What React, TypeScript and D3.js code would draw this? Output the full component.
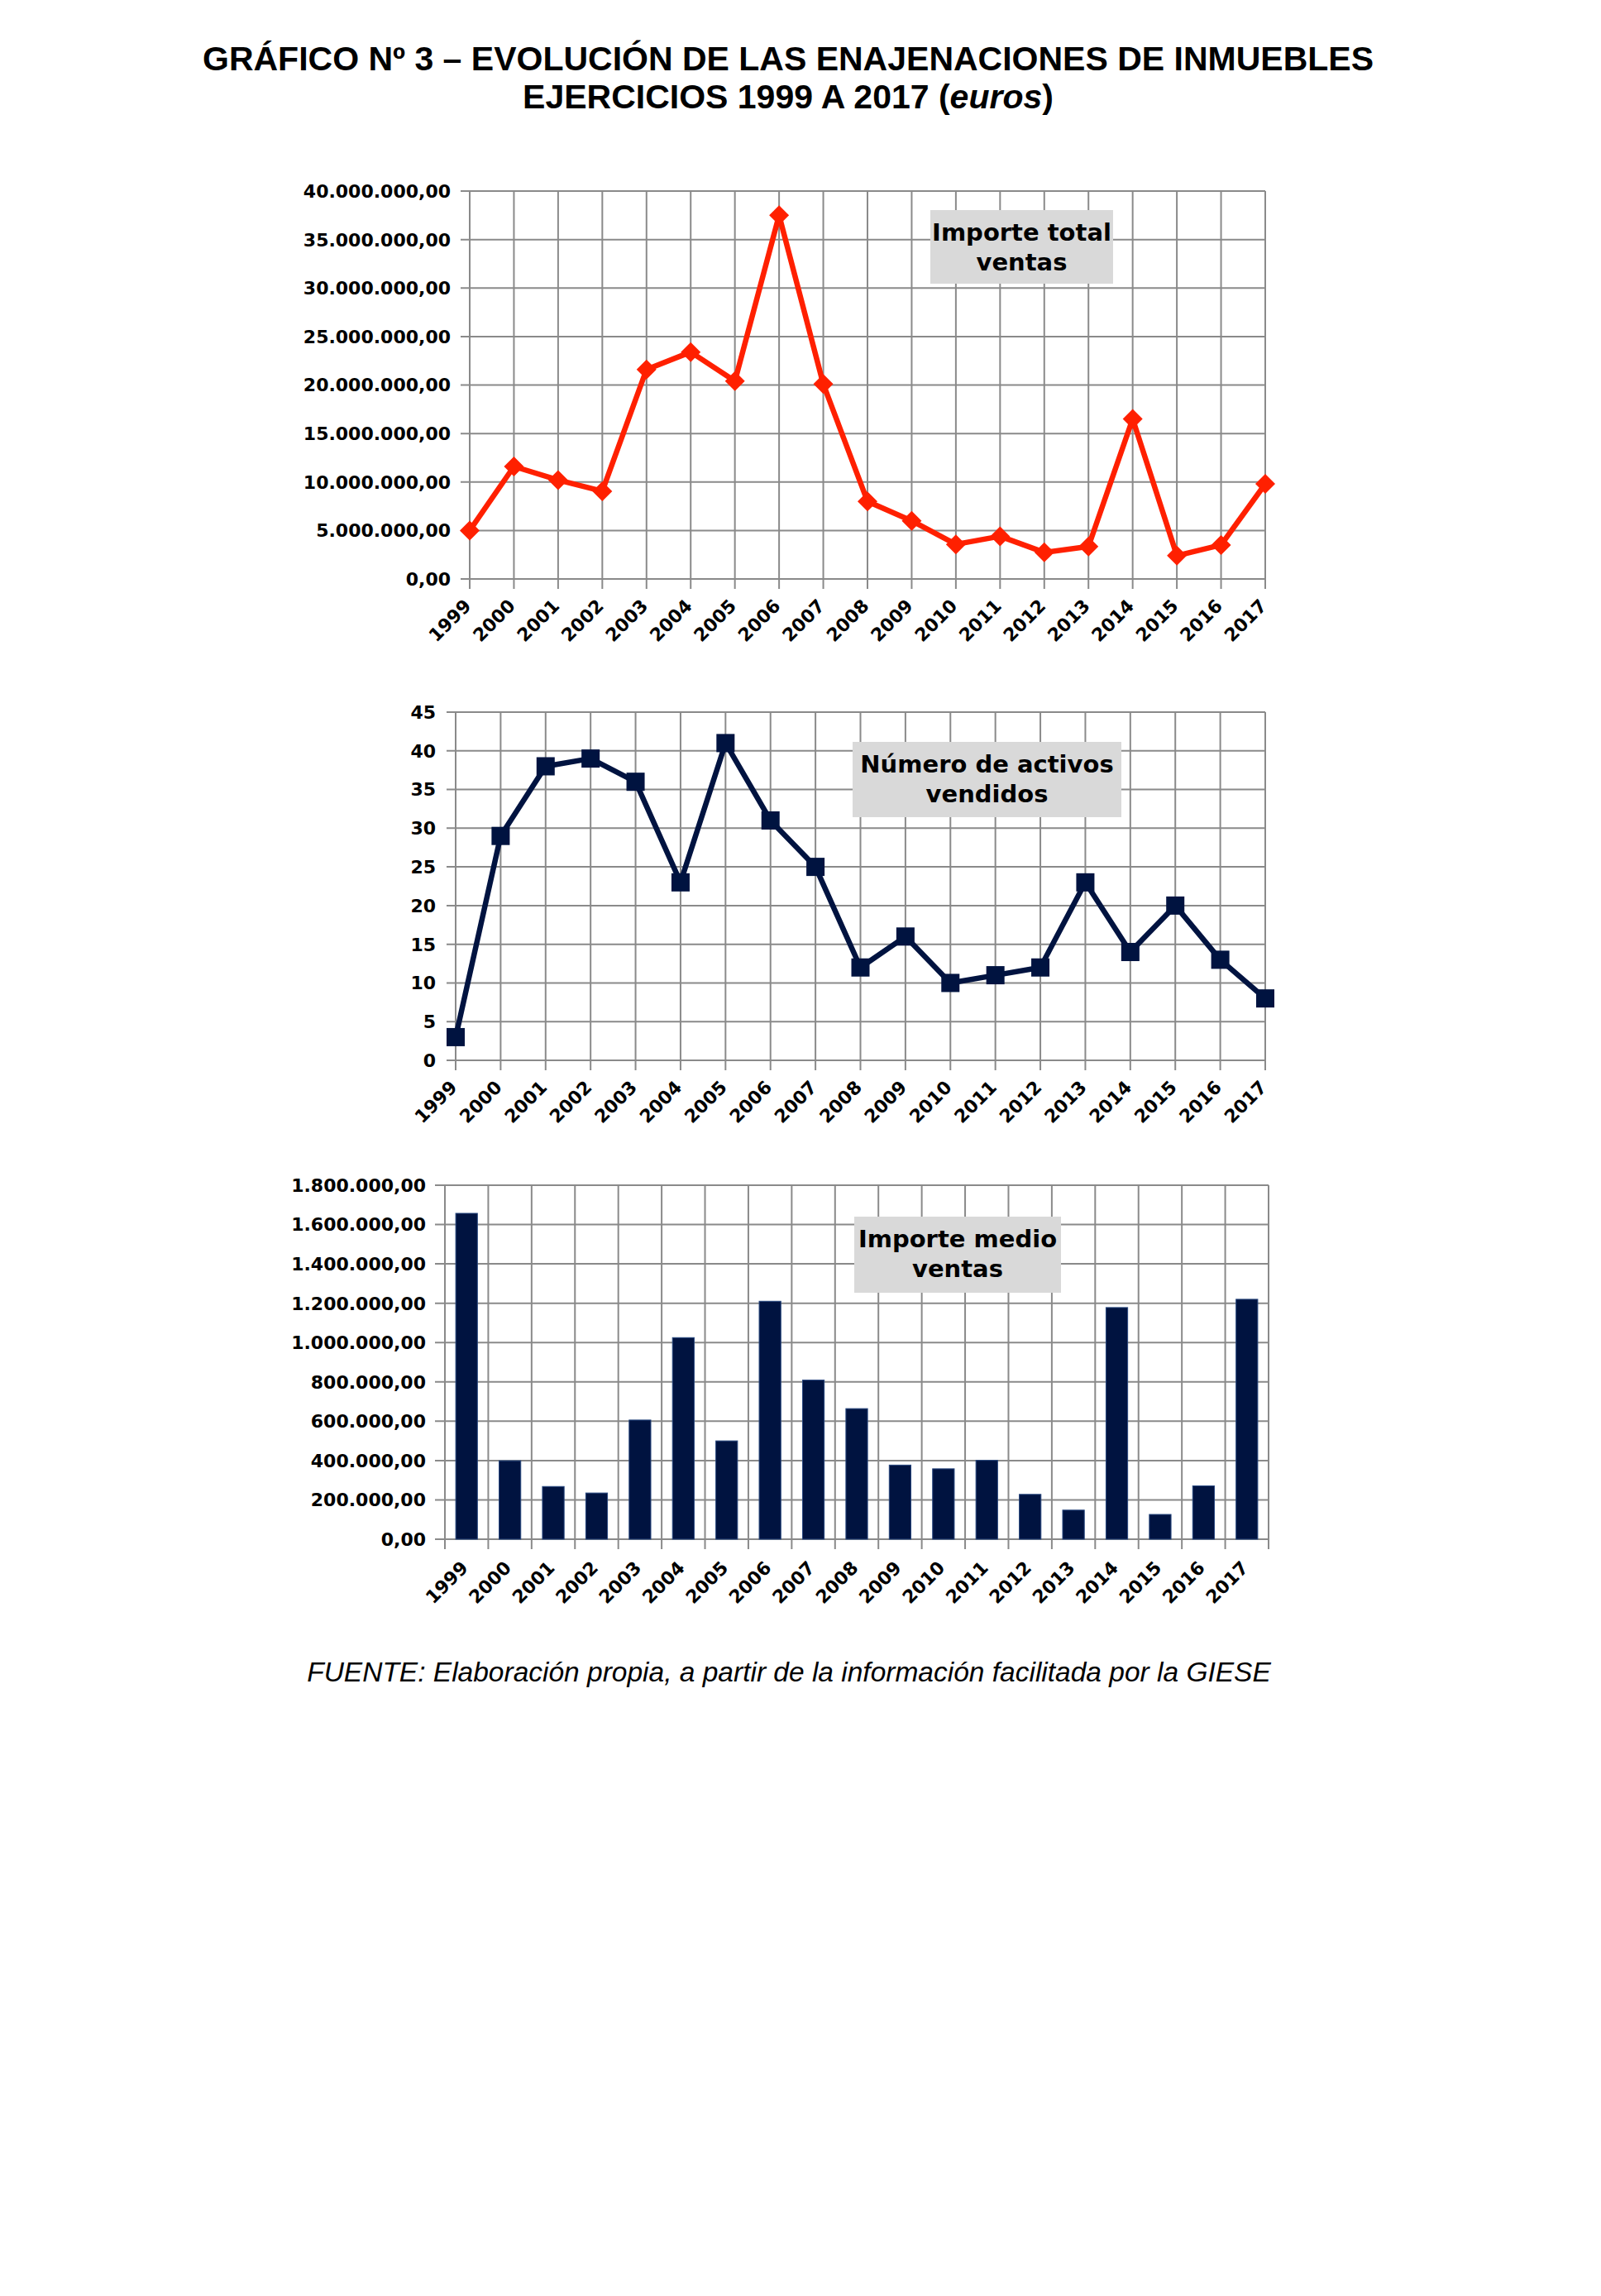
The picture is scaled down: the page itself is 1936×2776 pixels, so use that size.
import React from "react";
import * as d3 from "d3";

const years = ["1999","2000","2001","2002","2003","2004","2005","2006","2007","2008","2009","2010","2011","2012","2013","2014","2015","2016","2017"];
const importeTotal = [5.0e6,11.6e6,10.2e6,9.05e6,21.6e6,23.4e6,20.4e6,37.5e6,20.1e6,8.0e6,6.0e6,3.57e6,4.4e6,2.74e6,3.35e6,16.5e6,2.4e6,3.5e6,9.8e6];
const numeroActivos = [3,29,38,39,36,23,41,31,25,12,16,10,11,12,23,14,20,13,8];
const importeMedio = [1657000,399000,268000,235000,606000,1025000,500000,1210000,809000,664000,377000,358000,401000,228000,148000,1178000,126000,271000,1220000];
const ticks1 = [0,5e6,10e6,15e6,20e6,25e6,30e6,35e6,40e6];
const ticks2 = [0,5,10,15,20,25,30,35,40,45];
const ticks3 = [0,2e5,4e5,6e5,8e5,10e5,12e5,14e5,16e5,18e5];

const titleLine1 = "GRÁFICO Nº 3 – EVOLUCIÓN DE LAS ENAJENACIONES DE INMUEBLES";
const titleLine2a = "EJERCICIOS 1999 A 2017 (";
const titleLine2b = "euros";
const titleLine2c = ")";
const footer = "FUENTE: Elaboración propia, a partir de la información facilitada por la GIESE";
const legend1 = ["Importe total", "ventas"];
const legend2 = ["Número de activos", "vendidos"];
const legend3 = ["Importe medio", "ventas"];

const esLocale = d3.formatLocale({ decimal: ",", thousands: ".", grouping: [3], currency: ["", "€"] });
const fmtEuro = esLocale.format(",.2f");
const fmtInt = esLocale.format("d");

const GRID = "#8a8a8a";
const NAVY = "#001340";
const RED = "#ff2000";
const TICKFONT = "'DejaVu Sans', sans-serif";

function Legend({ x0, x1, y0, y1, lines }) {
  const cx = (x0 + x1) / 2;
  return (
    <g>
      <rect x={x0} y={y0} width={x1 - x0} height={y1 - y0} fill="#d9d9d9" />
      {lines.map((l, i) => (
        <text key={i} x={cx} y={y0 + 37 + i * 36} textAnchor="middle" fontFamily={TICKFONT} fontWeight="bold" fontSize={29} fill="#000">{l}</text>
      ))}
    </g>
  );
}

function YAxisLabels({ ticks, y, x, fmt }) {
  return (
    <g>
      {ticks.map((t) => (
        <text key={t} x={x} y={y(t)} dy="0.36em" textAnchor="end" fontFamily={TICKFONT} fontWeight="bold" fontSize={22} fill="#000">{fmt(t)}</text>
      ))}
    </g>
  );
}

function XLabels({ cats, xf, y }) {
  return (
    <g>
      {cats.map((c) => (
        <text key={c} transform={`translate(${xf(c) + 3},${y}) rotate(-45)`} textAnchor="end" fontFamily={TICKFONT} fontWeight="bold" fontSize={22} fill="#000">{c}</text>
      ))}
    </g>
  );
}

function LineChart({ left, right, top, bottom, labelX, ticks, max, values, color, marker, fmt, legend }) {
  const x = d3.scalePoint().domain(years).range([left, right]).padding(0);
  const y = d3.scaleLinear().domain([0, max]).range([bottom, top]);
  const line = d3.line().x((d, i) => x(years[i])).y((d) => y(d));
  return (
    <g>
      {ticks.map((t) => (
        <line key={"h" + t} x1={left - 11} x2={right} y1={y(t)} y2={y(t)} stroke={GRID} strokeWidth={2} />
      ))}
      {years.map((c) => (
        <line key={"v" + c} x1={x(c)} x2={x(c)} y1={top} y2={bottom + 12} stroke={GRID} strokeWidth={2} />
      ))}
      <Legend {...legend} />
      <path d={line(values)} fill="none" stroke={color} strokeWidth={6.5} strokeLinejoin="round" />
      {values.map((v, i) => {
        const cx = x(years[i]);
        const cy = y(v);
        if (marker === "diamond") {
          const s = 12;
          return <path key={i} d={`M${cx},${cy - s}L${cx + s},${cy}L${cx},${cy + s}L${cx - s},${cy}Z`} fill={color} />;
        }
        const s = 11;
        return <rect key={i} x={cx - s} y={cy - s} width={2 * s} height={2 * s} fill={color} />;
      })}
      <YAxisLabels ticks={ticks} y={y} x={labelX} fmt={fmt} />
      <XLabels cats={years} xf={(c) => x(c)} y={bottom + 34} />
    </g>
  );
}

function BarChart({ left, right, top, bottom, labelX, legend }) {
  const x = d3.scaleBand().domain(years).range([left, right]).padding(0);
  const y = d3.scaleLinear().domain([0, 1800000]).range([bottom, top]);
  const bw = x.bandwidth() * 0.5;
  return (
    <g>
      {ticks3.map((t) => (
        <line key={"h" + t} x1={left - 12} x2={right} y1={y(t)} y2={y(t)} stroke={GRID} strokeWidth={2} />
      ))}
      {years.map((c) => (
        <line key={"v" + c} x1={x(c)} x2={x(c)} y1={top} y2={bottom + 12} stroke={GRID} strokeWidth={2} />
      ))}
      <line x1={right} x2={right} y1={top} y2={bottom + 12} stroke={GRID} strokeWidth={2} />
      <Legend {...legend} />
      {importeMedio.map((v, i) => (
        <rect key={i} x={x(years[i]) + (x.bandwidth() - bw) / 2} y={y(v)} width={bw} height={y(0) - y(v)} fill={NAVY} stroke="#27477f" strokeWidth={1} />
      ))}
      <YAxisLabels ticks={ticks3} y={y} x={labelX} fmt={fmtEuro} />
      <XLabels cats={years} xf={(c) => x(c) + x.bandwidth() / 2} y={bottom + 36} />
    </g>
  );
}

export default function App() {
  return (
    <svg width={1936} height={2776} style={{ position: "absolute", left: 0, top: 0, background: "#fff" }}>
      <rect x={0} y={0} width={1936} height={2776} fill="#fff" />
      <text x={953} y={85} textAnchor="middle" fontFamily="'Liberation Sans', Arial, sans-serif" fontWeight="bold" fontSize={41} fill="#000">{titleLine1}</text>
      <text x={953} y={131} textAnchor="middle" fontFamily="'Liberation Sans', Arial, sans-serif" fontWeight="bold" fontSize={41} fill="#000">
        {titleLine2a}<tspan fontStyle="italic">{titleLine2b}</tspan>{titleLine2c}
      </text>
      <LineChart left={568} right={1530} top={231} bottom={700} labelX={545} ticks={ticks1} max={40e6}
        values={importeTotal} color={RED} marker="diamond" fmt={fmtEuro}
        legend={{ x0: 1125, x1: 1346, y0: 254, y1: 343, lines: legend1 }} />
      <LineChart left={551} right={1530} top={861} bottom={1282} labelX={527} ticks={ticks2} max={45}
        values={numeroActivos} color={NAVY} marker="square" fmt={fmtInt}
        legend={{ x0: 1031, x1: 1356, y0: 897, y1: 988, lines: legend2 }} />
      <BarChart left={538} right={1534} top={1433} bottom={1861} labelX={515}
        legend={{ x0: 1033, x1: 1283, y0: 1471, y1: 1563, lines: legend3 }} />
      <text x={954} y={2033} textAnchor="middle" fontFamily="'Liberation Sans', Arial, sans-serif" fontStyle="italic" fontSize={33.5} fill="#000">{footer}</text>
    </svg>
  );
}
